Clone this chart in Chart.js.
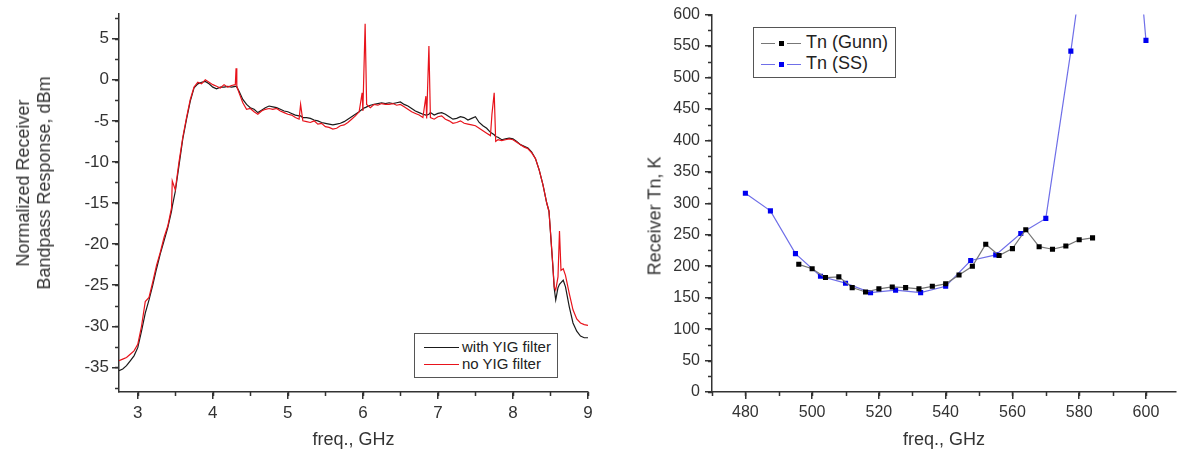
<!DOCTYPE html>
<html lang="en">
<head>
    <meta charset="UTF-8">
    <title>Receiver bandpass and noise temperature</title>
    <style>
        body {
            margin: 0;
            width: 1180px;
            height: 453px;
            background: #fff;
            font-family: "Liberation Sans", Arial, sans-serif;
            position: relative;
            overflow: hidden;
        }

        .panel {
            position: absolute;
            top: 0;
        }

        .ytitle {
            position: absolute;
            transform: translate(-50%, -50%) rotate(-90deg);
            white-space: nowrap;
            text-align: center;
            font-size: 18px;
            line-height: 21px;
            color: #333;
        }

        .legend {
            position: absolute;
            background: #fff;
            border: 1.5px solid #555;
            color: #222;
            box-sizing: border-box;
        }

        .legend .row {
            display: flex;
            align-items: center;
            white-space: nowrap;
        }

        .legend .sample {
            position: relative;
            display: inline-block;
        }

        .legend .sample i {
            position: absolute;
            top: 50%;
        }

        .legend .sample b {
            position: absolute;
            width: 5px;
            height: 5px;
            left: 50%;
            top: 50%;
            margin: -2px 0 0 -2.5px;
        }
    </style>
    <script src="https://cdn.jsdelivr.net/npm/chart.js"></script>
</head>
<body>
    <div class="panel" style="left:0;width:600px;height:453px">
        <canvas id="bandChart" width="600" height="453"></canvas>
    </div>
    <div class="panel" style="left:600px;width:580px;height:453px">
        <canvas id="tnChart" width="580" height="453"></canvas>
    </div>
    <div class="ytitle" style="left:34px;top:183px">Normalized Receiver<br>Bandpass Response, dBm</div>
    <div class="ytitle" style="left:655px;top:216px">Receiver Tn, K</div>
    <div class="legend" id="bandLegend" style="left:414px;top:333px;width:144px;height:45px;padding:4px 0 0 9px;font-size:15px;line-height:17px"></div>
    <div class="legend" id="tnLegend" style="left:753px;top:27px;width:143px;height:51px;padding:4px 0 0 7px;font-size:18px;line-height:21px"></div>

    <script>
        // left panel: bandpass response (GHz, dBm)
        const bandFreq = [
            2.75, 2.80, 2.85, 2.90, 2.95, 3.00, 3.05, 3.10, 3.15, 3.20,
            3.25, 3.30, 3.35, 3.40, 3.45, 3.46, 3.50, 3.55, 3.60, 3.65,
            3.70, 3.75, 3.80, 3.85, 3.90, 3.95, 4.00, 4.05, 4.10, 4.15,
            4.20, 4.25, 4.30, 4.31, 4.32, 4.35, 4.40, 4.45, 4.50, 4.55,
            4.60, 4.65, 4.70, 4.75, 4.80, 4.85, 4.90, 4.95, 5.00, 5.05,
            5.10, 5.15, 5.17, 5.20, 5.25, 5.30, 5.35, 5.40, 5.45, 5.50,
            5.55, 5.60, 5.65, 5.70, 5.75, 5.80, 5.85, 5.90, 5.95, 5.99,
            6.00, 6.03, 6.05, 6.10, 6.15, 6.20, 6.25, 6.30, 6.35, 6.40,
            6.45, 6.50, 6.55, 6.60, 6.65, 6.70, 6.75, 6.80, 6.84, 6.85,
            6.88, 6.90, 6.95, 7.00, 7.05, 7.10, 7.15, 7.20, 7.25, 7.30,
            7.35, 7.40, 7.45, 7.50, 7.55, 7.60, 7.65, 7.70, 7.72, 7.75,
            7.77, 7.80, 7.85, 7.90, 7.95, 8.00, 8.05, 8.10, 8.15, 8.20,
            8.25, 8.30, 8.35, 8.40, 8.45, 8.48, 8.50, 8.53, 8.55, 8.57,
            8.60, 8.62, 8.64, 8.67, 8.70, 8.75, 8.80, 8.85, 8.90, 8.95,
            9.00
        ];
        const withYig = [
            -35.4, -35.2, -34.8, -34.2, -33.6, -32.6, -30.6, -28.4, -26.8, -25.0,
            -23.0, -21.2, -19.6, -18.0, -16.0, -15.4, -13.6, -10.4, -7.2, -4.8,
            -2.6, -1.0, -0.5, -0.3, -0.2, -0.5, -0.9, -1.1, -0.9, -0.9,
            -0.8, -0.9, -0.8, -0.8, -0.9, -1.4, -2.4, -3.0, -3.4, -3.6,
            -4.0, -3.7, -3.4, -3.2, -3.3, -3.4, -3.6, -3.8, -3.9, -4.1,
            -4.3, -4.4, -4.4, -4.6, -4.6, -4.7, -4.9, -5.0, -5.2, -5.3,
            -5.4, -5.5, -5.4, -5.3, -5.1, -4.8, -4.5, -4.2, -3.9, -3.6,
            -3.5, -3.4, -3.3, -3.1, -3.0, -2.9, -2.8, -2.9, -2.8, -2.9,
            -2.8, -2.7, -3.0, -3.2, -3.5, -3.8, -4.0, -4.2, -4.3, -4.3,
            -4.2, -4.0, -4.3, -4.1, -4.0, -4.2, -4.5, -4.8, -4.7, -4.5,
            -4.6, -4.9, -4.7, -4.5, -5.2, -5.6, -5.9, -6.4, -6.5, -6.7,
            -6.9, -7.0, -7.3, -7.2, -7.1, -7.2, -7.5, -7.9, -8.1, -8.3,
            -8.8, -9.6, -11.0, -12.8, -15.0, -16.0, -18.6, -22.5, -25.4, -26.8,
            -25.3, -24.9, -24.7, -24.4, -25.2, -27.6, -29.6, -30.6, -31.2, -31.4,
            -31.4
        ];
        const noYig = [
            -34.2, -34.0, -33.8, -33.4, -33.0, -32.2, -30.0, -27.0, -26.5, -24.6,
            -22.6, -21.0, -19.2, -17.8, -15.6, -12.3, -13.4, -10.0, -7.0, -4.6,
            -2.4, -0.9, -0.3, -0.5, 0.0, -0.3, -0.6, -0.8, -1.0, -0.6,
            -0.9, -0.7, -0.6, 1.4, -0.8, -1.6, -2.8, -3.6, -3.5, -3.9,
            -4.2, -3.8, -3.6, -3.5, -3.6, -3.5, -3.8, -4.0, -4.2, -4.3,
            -4.6, -4.8, -3.0, -5.0, -5.1, -5.2, -5.0, -5.4, -5.3, -5.7,
            -5.8, -6.0, -5.9, -5.6, -5.5, -5.2, -4.8, -4.4, -3.9, -1.6,
            -3.8, 6.8, -3.0, -3.4, -3.0, -3.1, -2.9, -3.0, -3.0, -2.9,
            -3.1, -3.0, -3.3, -3.6, -3.9, -4.1, -4.3, -4.6, -2.0, -4.7,
            4.1, -4.6, -4.8, -4.5, -4.4, -4.8, -5.0, -5.3, -5.2, -5.0,
            -5.3, -5.4, -5.5, -5.6, -5.9, -6.2, -6.5, -6.8, -4.2, -1.6,
            -7.5, -7.3, -7.4, -7.3, -7.2, -7.3, -7.6, -7.9, -8.2, -8.4,
            -8.9, -9.6, -11.0, -12.8, -15.0, -16.0, -18.5, -22.4, -25.2, -25.6,
            -24.0, -18.4, -23.2, -23.0, -23.8, -26.0, -28.0, -29.1, -29.6, -29.8,
            -29.9
        ];
        const bandXTicks = [3, 4, 5, 6, 7, 8, 9];
        const bandYTicks = [-35, -30, -25, -20, -15, -10, -5, 0, 5];

        // right panel: receiver noise temperature (GHz, K)
        const gunnFreq = [496, 500, 504, 508, 512, 516, 520, 524, 528, 532, 536, 540,
                          544, 548, 552, 556, 560, 564, 568, 572, 576, 580, 584];
        const gunnTn = [203, 196, 182, 183, 166, 159, 164, 167, 166, 164, 168, 172,
                        186, 200, 235, 217, 228, 258, 231, 227, 232, 242, 245];
        const ssFreq = [480, 487.5, 495, 502.5, 510, 517.5, 525, 532.5, 540,
                        547.5, 555, 562.5, 570, 577.5, 585, 592.5, 600];
        const ssTn = [316, 288, 220, 184, 173, 158, 162, 158, 168,
                      209, 218, 252, 276, 542, 830, 1020, 559];
        const tnXTicks = [480, 500, 520, 540, 560, 580, 600];
        const tnYTicks = [0, 50, 100, 150, 200, 250, 300, 350, 400, 450, 500, 550, 600];

        const axisColor = '#333';
        const textColor = '#333';

        function pts(xs, ys) {
            return xs.map((x, i) => ({ x: x, y: ys[i] }));
        }

        // Origin-style small ticks between the labelled ones
        const minorTicks = {
            id: 'minorTicks',
            afterDraw(chart, args, opts) {
                const ctx = chart.ctx;
                ctx.save();
                ctx.strokeStyle = axisColor;
                ctx.lineWidth = 1.5;
                Object.keys(opts.steps || {}).forEach(id => {
                    const s = chart.scales[id];
                    const step = opts.steps[id];
                    let v = Math.ceil(s.min / step) * step;
                    ctx.beginPath();
                    for (; v <= s.max + 1e-9; v += step) {
                        const p = Math.round(s.getPixelForValue(v)) + 0.5;
                        if (s.isHorizontal()) {
                            ctx.moveTo(p, s.top);
                            ctx.lineTo(p, s.top + 4);
                        } else {
                            ctx.moveTo(s.right, p);
                            ctx.lineTo(s.right - 4, p);
                        }
                    }
                    ctx.stroke();
                });
                ctx.restore();
            }
        };

        function axis(ticks, opts) {
            return Object.assign({
                type: 'linear',
                grid: { drawOnChartArea: false, drawTicks: true, tickLength: 7, color: axisColor, lineWidth: 1.5 },
                border: { display: true, color: axisColor, width: 1.5 },
                afterBuildTicks: s => { s.ticks = ticks.map(v => ({ value: v })); }
            }, opts);
        }

        Chart.defaults.font.family = '"Liberation Sans", Arial, sans-serif';
        Chart.defaults.color = textColor;

        const bandDatasets = [
            { label: 'with YIG filter', data: pts(bandFreq, withYig), borderColor: '#1a1a1a', borderWidth: 1.2, order: 2 },
            { label: 'no YIG filter', data: pts(bandFreq, noYig), borderColor: '#e8131b', borderWidth: 1.2, order: 1 }
        ];

        new Chart(document.getElementById('bandChart'), {
            type: 'line',
            data: { datasets: bandDatasets },
            options: {
                responsive: false,
                animation: false,
                devicePixelRatio: 1,
                layout: { padding: { top: 14, right: 12, left: 0, bottom: 0 } },
                elements: { point: { radius: 0 }, line: { tension: 0 } },
                plugins: {
                    legend: { display: false },
                    tooltip: { enabled: false },
                    minorTicks: { steps: { x: 0.5, y: 2.5 } }
                },
                scales: {
                    x: axis(bandXTicks, {
                        min: 2.75, max: 9,
                        ticks: { padding: 4, font: { size: 17 }, autoSkip: false, maxRotation: 0 },
                        afterFit: s => { s.height = 61; },
                        title: { display: true, text: 'freq., GHz', font: { size: 18, lineHeight: 1.17 }, padding: { top: 0, bottom: 2.5 } }
                    }),
                    y: axis(bandYTicks, {
                        min: -38, max: 8,
                        ticks: { padding: 3, font: { size: 17 }, autoSkip: false },
                        afterFit: s => { s.width = 119; }
                    })
                }
            },
            plugins: [minorTicks]
        });

        const tnDatasets = [
            { label: 'Tn (Gunn)', data: pts(gunnFreq, gunnTn), borderColor: '#777', borderWidth: 1.2,
              pointStyle: 'rect', pointRadius: 3.6, pointBackgroundColor: '#000', pointBorderColor: '#000', pointBorderWidth: 0 },
            { label: 'Tn (SS)', data: pts(ssFreq, ssTn), borderColor: '#6f6fe8', borderWidth: 1.2,
              pointStyle: 'rect', pointRadius: 3.6, pointBackgroundColor: '#0000f0', pointBorderColor: '#0000f0', pointBorderWidth: 0 }
        ];

        new Chart(document.getElementById('tnChart'), {
            type: 'line',
            data: { datasets: tnDatasets },
            options: {
                responsive: false,
                animation: false,
                devicePixelRatio: 1,
                layout: { padding: { top: 12, right: 0, left: 0, bottom: 0 } },
                elements: { line: { tension: 0 } },
                plugins: {
                    legend: { display: false },
                    tooltip: { enabled: false },
                    minorTicks: { steps: { x: 10, y: 25 } }
                },
                scales: {
                    x: axis(tnXTicks, {
                        min: 470, max: 609,
                        ticks: { padding: 4, font: { size: 16 }, autoSkip: false, maxRotation: 0 },
                        afterFit: s => { s.height = 61; },
                        title: { display: true, text: 'freq., GHz', font: { size: 18, lineHeight: 1.17 }, padding: { top: 0, bottom: 2.5 } }
                    }),
                    y: axis(tnYTicks, {
                        min: 0, max: 600,
                        ticks: { padding: 5, font: { size: 16 }, autoSkip: false },
                        afterFit: s => { s.width = 112; }
                    })
                }
            },
            plugins: [minorTicks]
        });

        // legends boxed inside the plots, as in the original figures
        function buildLegend(el, datasets, sampleWidth, gap, marker) {
            datasets.forEach(ds => {
                const row = document.createElement('div');
                row.className = 'row';
                const sample = document.createElement('span');
                sample.className = 'sample';
                sample.style.width = sampleWidth + 'px';
                sample.style.height = '10px';
                sample.style.marginRight = gap + 'px';
                // line pieces either side of the marker, like Origin's "—■—"
                const pieces = marker ? [[0, sampleWidth / 2 - 6], [sampleWidth / 2 + 6, sampleWidth]] : [[0, sampleWidth]];
                pieces.forEach(([a, b]) => {
                    const line = document.createElement('i');
                    line.style.left = a + 'px';
                    line.style.width = (b - a) + 'px';
                    line.style.borderTop = '1.2px solid ' + ds.borderColor;
                    sample.appendChild(line);
                });
                if (marker) {
                    const sq = document.createElement('b');
                    sq.style.background = ds.pointBackgroundColor;
                    sample.appendChild(sq);
                }
                row.appendChild(sample);
                row.appendChild(document.createTextNode(ds.label));
                el.appendChild(row);
            });
        }

        buildLegend(document.getElementById('bandLegend'), bandDatasets, 35, 3, false);
        buildLegend(document.getElementById('tnLegend'), tnDatasets, 40, 5, true);
    </script>
</body>
</html>
